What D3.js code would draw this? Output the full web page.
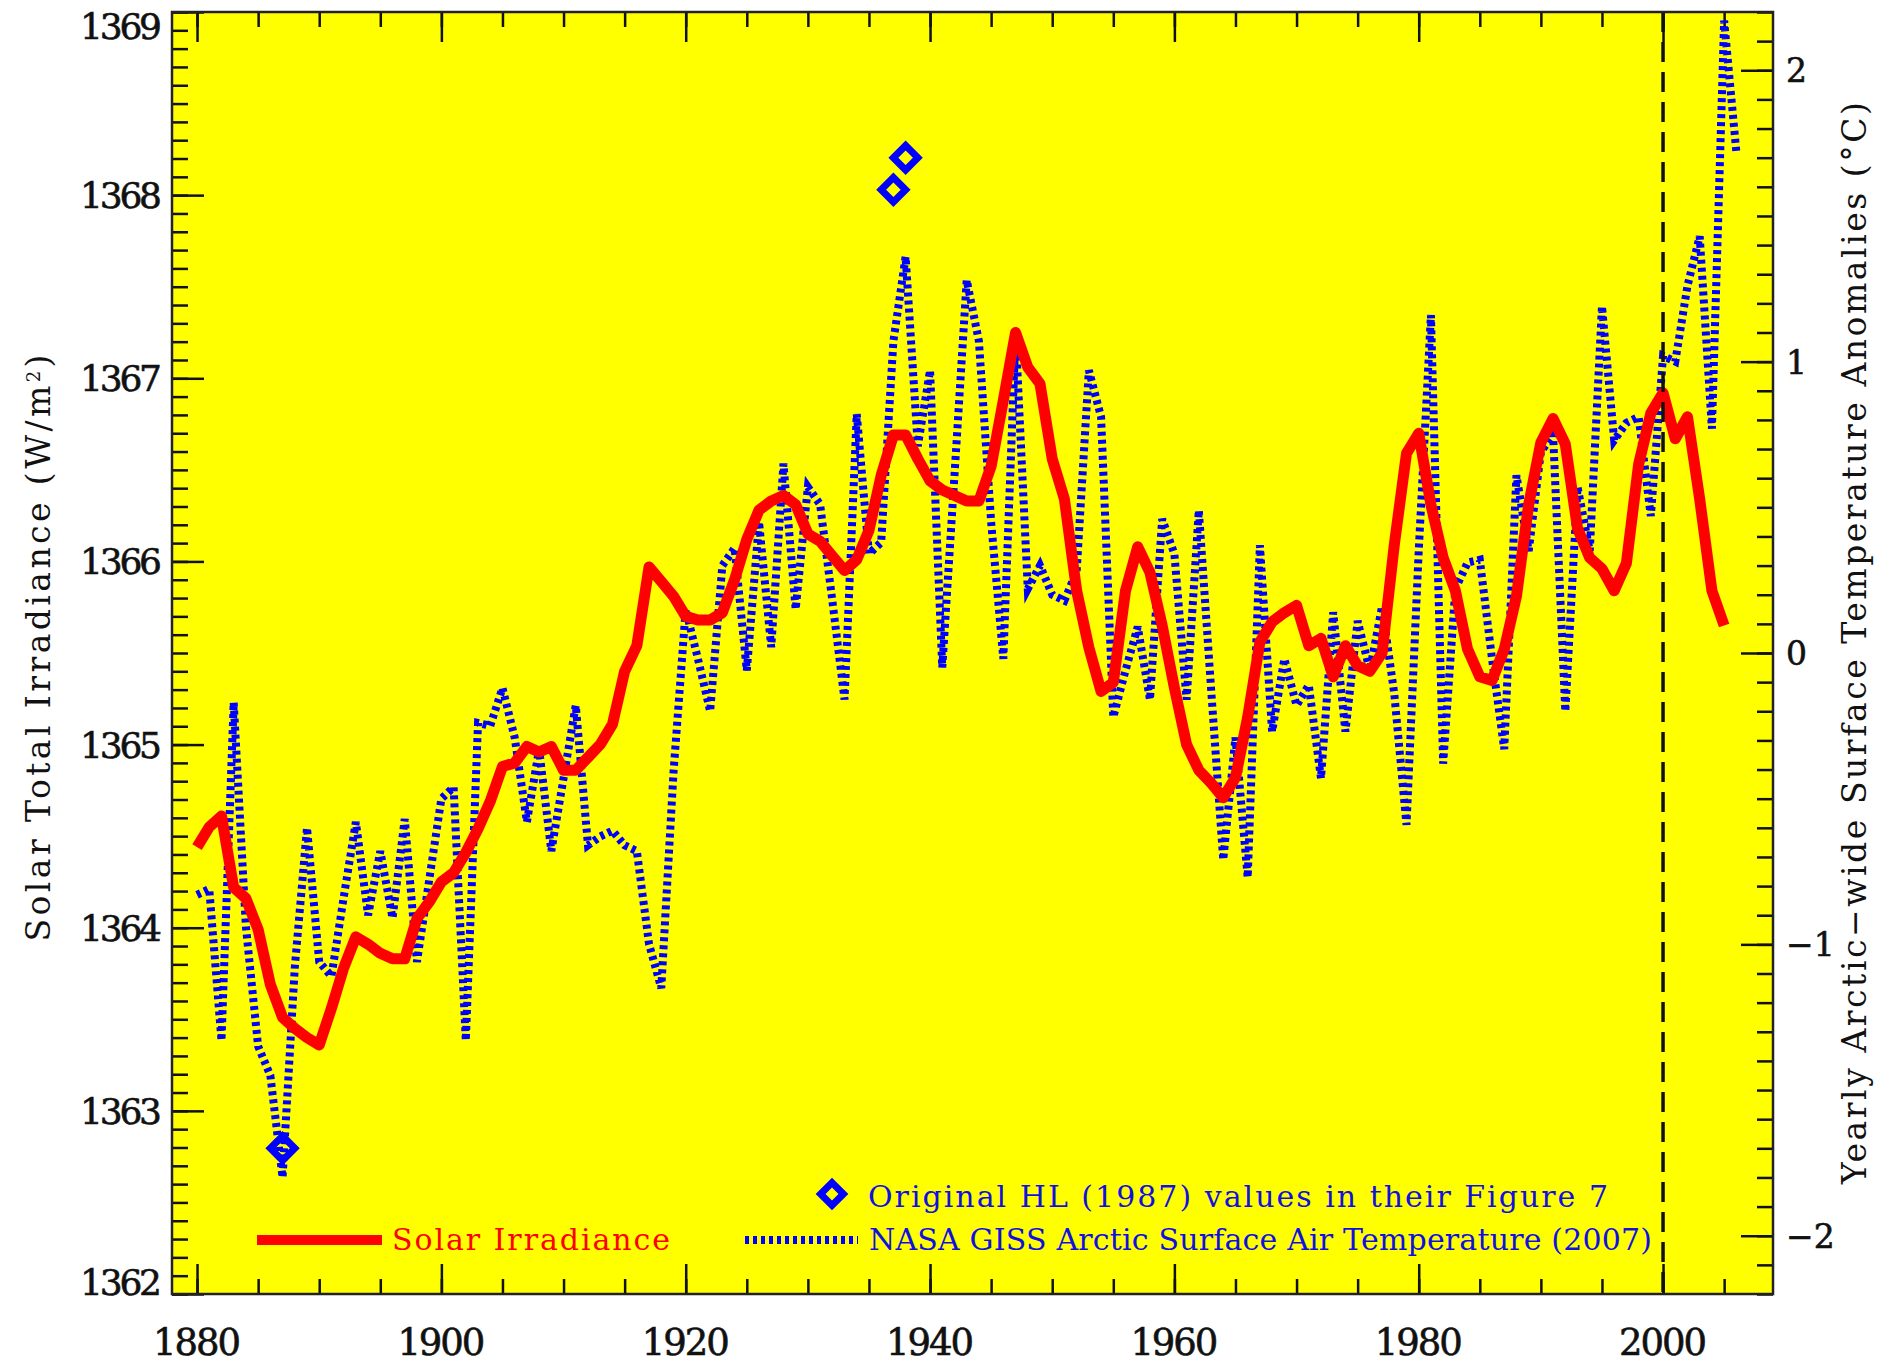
<!DOCTYPE html>
<html>
<head>
<meta charset="utf-8">
<script src="https://cdn.jsdelivr.net/npm/d3@7"></script>
<style>
  html, body { margin: 0; padding: 0; background: #ffffff; }
  svg text { font-family: "DejaVu Serif", "Liberation Serif", serif; }
</style>
</head>
<body>
<div id="chart"></div>
<script>
// yearly solar total irradiance (W/m2), 1880-2005
const solarStart = 1880;
const solarValues = [
  1364.44, 1364.55, 1364.61, 1364.22, 1364.16, 1363.99, 1363.69, 1363.51, 1363.45, 1363.40,
  1363.36, 1363.56, 1363.78, 1363.95, 1363.91, 1363.86, 1363.83, 1363.83, 1364.05, 1364.14,
  1364.25, 1364.30, 1364.41, 1364.54, 1364.69, 1364.88, 1364.90, 1364.99, 1364.96, 1364.99,
  1364.86, 1364.86, 1364.93, 1365.00, 1365.11, 1365.40, 1365.54, 1365.97, 1365.89, 1365.81,
  1365.70, 1365.68, 1365.68, 1365.72, 1365.90, 1366.12, 1366.28, 1366.33, 1366.36, 1366.31,
  1366.15, 1366.11, 1366.03, 1365.95, 1366.01, 1366.17, 1366.47, 1366.69, 1366.69, 1366.56,
  1366.44, 1366.39, 1366.36, 1366.33, 1366.33, 1366.52, 1366.88, 1367.25, 1367.06, 1366.97,
  1366.56, 1366.34, 1365.84, 1365.53, 1365.29, 1365.34, 1365.84, 1366.08, 1365.94, 1365.65,
  1365.31, 1365.00, 1364.86, 1364.79, 1364.71, 1364.82, 1365.15, 1365.56, 1365.67, 1365.72,
  1365.76, 1365.54, 1365.58, 1365.37, 1365.54, 1365.43, 1365.40, 1365.50, 1366.09, 1366.59,
  1366.70, 1366.31, 1366.02, 1365.84, 1365.52, 1365.37, 1365.35, 1365.52, 1365.81, 1366.31,
  1366.65, 1366.78, 1366.64, 1366.18, 1366.02, 1365.96, 1365.84, 1365.99, 1366.53, 1366.81,
  1366.92, 1366.67, 1366.79, 1366.34, 1365.84, 1365.65
];

// NASA GISS arctic surface air temperature anomalies (deg C), 1880-2006
const tempStart = 1880;
const tempValues = [
  -0.83, -0.81, -1.33, -0.17, -0.94, -1.35, -1.45, -1.80, -1.08, -0.60,
  -1.06, -1.11, -0.84, -0.58, -0.90, -0.68, -0.91, -0.57, -1.06, -0.78,
  -0.50, -0.46, -1.33, -0.24, -0.25, -0.12, -0.29, -0.58, -0.33, -0.68,
  -0.43, -0.18, -0.66, -0.63, -0.61, -0.66, -0.68, -1.00, -1.15, -0.41,
   0.15, -0.02, -0.20,  0.30,  0.36, -0.06,  0.45,  0.02,  0.65,  0.15,
   0.57,  0.51,  0.18, -0.16,  0.82,  0.34,  0.38,  1.07,  1.36,  0.71,
   0.97, -0.05,  0.61,  1.28,  1.07,  0.45, -0.02,  1.10,  0.22,  0.30,
   0.20,  0.18,  0.28,  0.97,  0.81, -0.22, -0.06,  0.09, -0.16,  0.46,
   0.34, -0.16,  0.49, -0.12, -0.71, -0.29, -0.77,  0.37, -0.27, -0.02,
  -0.18, -0.11, -0.43,  0.14, -0.27,  0.11, -0.06,  0.16, -0.14, -0.59,
   0.35,  1.16, -0.38,  0.22,  0.31,  0.32, -0.02, -0.33,  0.61,  0.35,
   0.69,  0.75, -0.20,  0.57,  0.35,  1.19,  0.73,  0.79,  0.81,  0.47,
   1.02,  1.00,  1.26,  1.43,  0.77,  2.17,  1.72
];

// original HL (1987) values
const hlYears = [1887, 1937, 1938];
const hlValues = [-1.70, 1.59, 1.70];

// axes
const xMajorTicks = [1880, 1900, 1920, 1940, 1960, 1980, 2000];
const leftMajorTicks = [1362, 1363, 1364, 1365, 1366, 1367, 1368, 1369];
const rightMajorTicks = [-2, -1, 0, 1, 2];
const markerYear = 2000;

const width = 1882;
const height = 1364;
const margin = { top: 12, right: 109, bottom: 70, left: 172 };
const chartWidth = width - margin.left - margin.right;
const chartHeight = height - margin.top - margin.bottom;

const svg = d3.select("#chart").append("svg")
  .attr("width", width)
  .attr("height", height);

const x = d3.scaleLinear().domain([1877.95, 2009]).range([0, chartWidth]);
const yL = d3.scaleLinear().domain([1362, 1369]).range([chartHeight, 0]);
const yR = d3.scaleLinear().domain([-2.2, 2.2]).range([chartHeight, 0]);

const chart = svg.append("g")
  .attr("transform", `translate(${margin.left}, ${margin.top})`);

chart.append("rect")
  .attr("width", chartWidth)
  .attr("height", chartHeight)
  .attr("fill", "#ffff00");

svg.append("defs").append("clipPath").attr("id", "plot-clip")
  .append("rect").attr("width", chartWidth).attr("height", chartHeight);

// ticks (inward, no labels)
const xMinor = d3.range(1880, 2006, 5);
const leftMinor = d3.range(0, 71).map(i => 1362 + i / 10);
const rightMinor = d3.range(-22, 23).map(i => i / 10);

function tickAxis(axis, transform) {
  const g = chart.append("g").attr("transform", transform).call(axis);
  g.select(".domain").remove();
  g.selectAll("text").remove();
  g.selectAll("line").attr("stroke", "#111").attr("stroke-width", 2.5);
  return g;
}

tickAxis(d3.axisBottom(x).tickValues(xMinor).tickSize(-15), `translate(0, ${chartHeight})`);
tickAxis(d3.axisBottom(x).tickValues(xMajorTicks).tickSize(-30), `translate(0, ${chartHeight})`);
tickAxis(d3.axisTop(x).tickValues(xMinor).tickSize(-15), "translate(0, 0)");
tickAxis(d3.axisTop(x).tickValues(xMajorTicks).tickSize(-30), "translate(0, 0)");
tickAxis(d3.axisLeft(yL).tickValues(leftMinor).tickSize(-16), "translate(0, 0)");
tickAxis(d3.axisLeft(yL).tickValues(leftMajorTicks).tickSize(-32), "translate(0, 0)");
tickAxis(d3.axisRight(yR).tickValues(rightMinor).tickSize(-16), `translate(${chartWidth}, 0)`);
tickAxis(d3.axisRight(yR).tickValues(rightMajorTicks).tickSize(-32), `translate(${chartWidth}, 0)`);

// tick labels
chart.selectAll(".xlab")
  .data(xMajorTicks)
  .enter()
  .append("text")
  .attr("x", d => x(d))
  .attr("y", chartHeight + 61)
  .attr("text-anchor", "middle")
  .attr("textLength", 88)
  .style("font-size", "37px")
  .style("fill", "#111")
  .style("stroke", "#111")
  .style("stroke-width", 0.6)
  .text(d => d);

chart.selectAll(".ylab")
  .data(leftMajorTicks)
  .enter()
  .append("text")
  .attr("x", -10)
  .attr("y", d => Math.min(Math.max(yL(d), 14), chartHeight - 12))
  .attr("dy", "0.36em")
  .attr("text-anchor", "end")
  .attr("textLength", 82)
  .style("font-size", "36px")
  .style("fill", "#111")
  .style("stroke", "#111")
  .style("stroke-width", 0.6)
  .text(d => d);

chart.selectAll(".rlab")
  .data(rightMajorTicks)
  .enter()
  .append("text")
  .attr("x", chartWidth + 13)
  .attr("y", d => yR(d))
  .attr("dy", "0.36em")
  .attr("text-anchor", "start")
  .style("font-size", "33px")
  .style("fill", "#111")
  .style("stroke", "#111")
  .style("stroke-width", 0.6)
  .text(d => d < 0 ? "\u2212" + Math.abs(d) : d);

// axis titles
const leftTitle = svg.append("text")
  .attr("transform", "translate(50, 648) rotate(-90)")
  .attr("text-anchor", "middle")
  .attr("textLength", 587)
  .style("font-size", "33px")
  .style("fill", "#111");
leftTitle.append("tspan").text("Solar Total Irradiance (W/m");
leftTitle.append("tspan").attr("baseline-shift", "super").style("font-size", "18px").text("2");
leftTitle.append("tspan").text(")");

svg.append("text")
  .attr("transform", "translate(1866, 643) rotate(-90)")
  .attr("text-anchor", "middle")
  .attr("textLength", 1082)
  .style("font-size", "33px")
  .style("fill", "#111")
  .text("Yearly Arctic\u2212wide Surface Temperature Anomalies (\u00b0C)");

// data lines
const plotArea = chart.append("g").attr("clip-path", "url(#plot-clip)");

const tempLine = d3.line()
  .x((d, i) => x(tempStart + i))
  .y(d => yR(d));

plotArea.append("path")
  .datum(tempValues)
  .attr("d", tempLine)
  .attr("fill", "none")
  .attr("stroke", "#0000ff")
  .attr("stroke-width", 8)
  .attr("stroke-dasharray", "4,4");

const solarLine = d3.line()
  .x((d, i) => x(solarStart + i))
  .y(d => yL(d));

plotArea.append("path")
  .datum(solarValues)
  .attr("d", solarLine)
  .attr("fill", "none")
  .attr("stroke", "#ff0000")
  .attr("stroke-width", 11)
  .attr("stroke-linejoin", "round");

const diamond = d3.symbol().type(d3.symbolSquare).size(300);

plotArea.selectAll(".hl")
  .data(hlYears)
  .enter()
  .append("path")
  .attr("d", diamond)
  .attr("transform", (d, i) => `translate(${x(d)}, ${yR(hlValues[i])}) rotate(45)`)
  .attr("fill", "none")
  .attr("stroke", "#0000ff")
  .attr("stroke-width", 7);

// 2000 marker
chart.append("line")
  .attr("x1", x(markerYear))
  .attr("x2", x(markerYear))
  .attr("y1", 0)
  .attr("y2", chartHeight)
  .attr("stroke", "#111")
  .attr("stroke-width", 3.5)
  .attr("stroke-dasharray", "20,10");

// frame
chart.append("rect")
  .attr("width", chartWidth)
  .attr("height", chartHeight)
  .attr("fill", "none")
  .attr("stroke", "#222")
  .attr("stroke-width", 2.5);

// legend
const legend = svg.append("g");

legend.append("path")
  .attr("d", d3.symbol().type(d3.symbolSquare).size(260))
  .attr("transform", "translate(832, 1194) rotate(45)")
  .attr("fill", "none")
  .attr("stroke", "#0000ff")
  .attr("stroke-width", 7);

legend.append("text")
  .attr("x", 868)
  .attr("y", 1207)
  .attr("textLength", 740)
  .style("font-size", "30px")
  .style("fill", "#1010e0")
  .text("Original HL (1987) values in their Figure 7");

legend.append("line")
  .attr("x1", 745).attr("x2", 858)
  .attr("y1", 1240).attr("y2", 1240)
  .attr("stroke", "#0000ff")
  .attr("stroke-width", 8)
  .attr("stroke-dasharray", "4,4");

legend.append("text")
  .attr("x", 869)
  .attr("y", 1250)
  .attr("textLength", 783)
  .style("font-size", "30px")
  .style("fill", "#1010e0")
  .text("NASA GISS Arctic Surface Air Temperature (2007)");

legend.append("line")
  .attr("x1", 257).attr("x2", 382)
  .attr("y1", 1240).attr("y2", 1240)
  .attr("stroke", "#ff0000")
  .attr("stroke-width", 10);

legend.append("text")
  .attr("x", 392)
  .attr("y", 1250)
  .attr("textLength", 278)
  .style("font-size", "30px")
  .style("fill", "#ff0000")
  .text("Solar Irradiance");
</script>
</body>
</html>
